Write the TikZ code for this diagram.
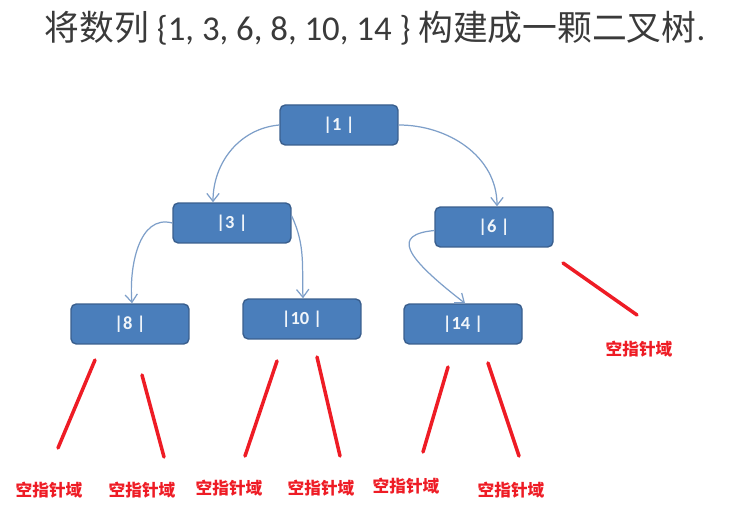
\documentclass[tikz,border=0pt]{standalone}
\usepackage{fontspec}
\setmainfont{Carlito}
\newfontfamily\cjk{Noto Sans CJK SC}
\usetikzlibrary{arrows.meta}
\definecolor{boxblue}{HTML}{4A7EBB}
\definecolor{boxedge}{HTML}{3A5F8E}
\definecolor{arrowblue}{HTML}{7E9FC9}
\definecolor{nullred}{HTML}{EE1C25}
\definecolor{titlegray}{HTML}{3A3A3A}
\tikzset{
  treebox/.style={draw=boxedge, fill=boxblue, line width=0.8pt, rounded corners=3pt,
    minimum width=2.36cm, minimum height=0.8cm, inner sep=0pt, text=white!92!boxblue,
    font=\bfseries\fontsize{10.5}{11}\selectfont},
  link/.style={arrowblue, line width=0.7pt, -{Straight Barb[length=4.5pt, width=7pt]}},
  nullline/.style={nullred, line width=2pt, line cap=round},
  nulltext/.style={text=nullred, font=\cjk\bfseries\fontsize{9.5}{10}\selectfont}
}
\begin{document}
\begin{tikzpicture}[x=0.02cm, y=-0.02cm]
\useasboundingbox (0,0) rectangle (749,516);
\node[text=titlegray, font=\fontsize{19.8}{21}\selectfont] (title) at (375,28)
  {{\cjk 将数列} \{1, 3, 6, 8, 10, 14 \} {\cjk 构建成一颗二叉树}.};
% tree boxes
\foreach \n/\x/\y/\v in {one/339/125/1, three/232/223/3, six/494/227/6,
  eight/130/324/8, ten/302/319/10, fourteen/463/324/14} {
  \node[treebox] (\n) at (\x,\y) {|\v\ |};}
\draw[link] (one.west) to[out=185, in=90] (three.north -| 213,0);
\draw[link] (one.east) to[out=0, in=90] (six.north -| 497,0);
\draw[link] (three.west) to[out=165, in=95] (eight.north -| 132,0);
\draw[link] ([yshift=4pt]three.east) to[out=-65, in=92] (ten.north -| 303,0);
\draw[link] ([yshift=-2pt]six.west) .. controls +(-42,4) and +(-62,-48) .. (fourteen.north -| 465,0);
% empty pointer fields
\coordinate (a1) at (95,360); \coordinate (b1) at (58,448);
\coordinate (a2) at (142,375); \coordinate (b2) at (164,457);
\coordinate (a3) at (277,361); \coordinate (b3) at (245,456);
\coordinate (a4) at (317,357); \coordinate (b4) at (340,456);
\coordinate (a5) at (448,367); \coordinate (b5) at (423,452);
\coordinate (a6) at (488,363); \coordinate (b6) at (519,456);
\coordinate (a7) at (563,263); \coordinate (b7) at (637,315);
\foreach \i in {1,...,7} {\draw[nullline] (a\i) -- (b\i);}
\foreach \i/\x/\y in {1/49/490, 2/142/490, 3/229/488, 4/321/488, 5/406/486, 6/511/490, 7/639/349} {
  \node[nulltext] (null\i) at (\x,\y) {空指针域};}
\end{tikzpicture}
\end{document}
